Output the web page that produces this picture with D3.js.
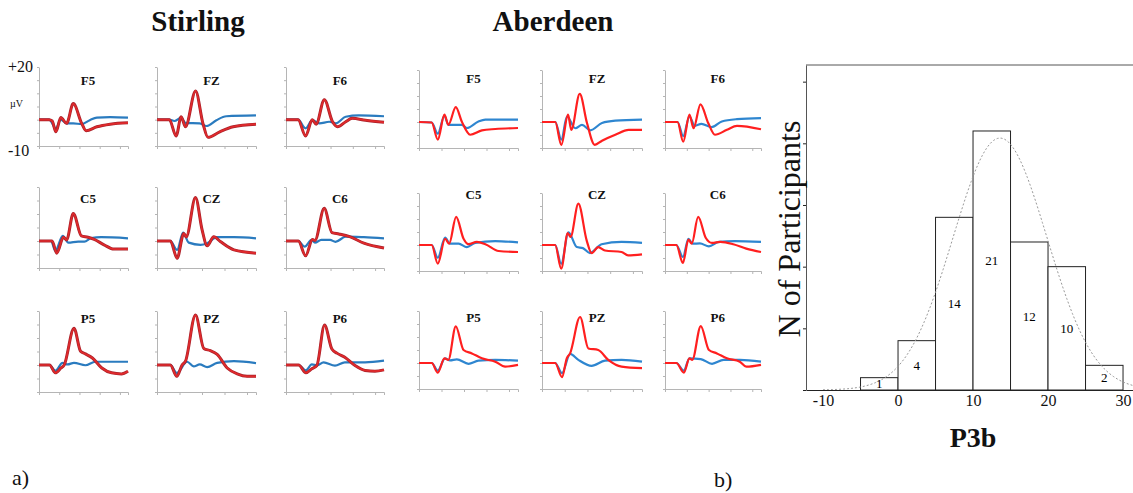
<!DOCTYPE html>
<html lang="en">
<head>
<meta charset="UTF-8">
<title>ERP waveforms and P3b histogram</title>
<script src="https://d3js.org/d3.v7.min.js"></script>
<style>
  body { margin: 0; background: #fff; }
  text { font-family: "Liberation Serif", "Times New Roman", serif; fill: #111; }
</style>
</head>
<body>
<div id="chart"></div>
<script>
// ERP panels: time in ms, amplitude in µV
const timeTicks = [-100, 100, 300, 500, 700];
const uvTicks = [-10, -5, 0, 5, 10, 15, 20];
const sites = ["F5", "FZ", "F6", "C5", "CZ", "C6", "P5", "PZ", "P6"];

// Stirling  [ms, µV]
const stF5_red  = [[-100,0],[0,0],[30,-0.5],[67,-4.6],[116,0.8],[173,-1.4],[239,6.1],[322,-1.4],[366,-4.2],[472,-2.7],[604,-1.7],[780,-1.2]];
const stF5_blue = [[-100,0],[0,0],[67,-3.3],[116,0],[173,-1.4],[239,-1.4],[322,-1.7],[402,-0.2],[472,0.8],[604,1.0],[780,0.8]];
const stFZ_red  = [[-100,0],[10,0],[70,-6.2],[115,1.1],[153,-2.7],[243,10.9],[308,-1.4],[353,-6.7],[458,-4.6],[577,-2.7],[780,-1.7]];
const stFZ_blue = [[-100,0],[10,0],[55,-0.5],[115,0.8],[153,-1.2],[279,-1.4],[340,-2.4],[428,-0.2],[516,1.3],[780,1.6]];
const stF6_red  = [[-100,0],[9,0],[76,-6.2],[136,0],[171,-1.7],[244,7.6],[318,-0.8],[362,-2.7],[436,-0.8],[494,0.5],[613,-0.2],[780,-1.0]];
const stF6_blue = [[-100,0],[9,0],[76,-3.3],[136,-0.2],[200,-1.4],[288,-0.8],[348,-1.4],[436,1.1],[553,1.6],[780,1.3]];
const stC5_red  = [[-100,0],[29,0],[76,-4.5],[142,1.4],[173,0.4],[239,10.2],[319,1.9],[384,1.4],[446,0.6],[543,-1.4],[641,-3.0],[780,-3.0]];
const stC5_blue = [[-100,0],[20,0],[61,-3.6],[135,1.9],[190,-0.6],[287,-0.2],[349,-0.2],[416,1.1],[515,1.4],[780,1.0]];
const stCZ_red  = [[-100,0],[19,0],[79,-6.4],[138,2.8],[160,1.5],[242,16.1],[301,4.1],[346,-1.8],[405,1.6],[463,-0.2],[584,-3.3],[780,-4.5]];
const stCZ_blue = [[-100,0],[19,0],[79,-3.3],[132,3.1],[182,-0.6],[287,-1.4],[346,-0.8],[434,1.4],[584,1.4],[780,1.0]];
const stC6_red  = [[-100,0],[11,0],[76,-5.5],[138,0.6],[160,0.2],[243,12.1],[313,3.1],[375,2.6],[472,1.6],[599,-0.8],[780,-2.6]];
const stC6_blue = [[-100,0],[11,0],[67,-2.1],[129,0.4],[160,-0.6],[217,0.4],[296,0.4],[344,-0.3],[437,1.6],[599,1.4],[780,1.0]];
const stP5_red  = [[-100,0],[4,0],[62,-2.9],[117,-1.1],[149,0],[246,13.6],[311,5.1],[359,4.1],[428,2.6],[521,-1.1],[618,-2.9],[715,-3.3],[780,-2.3]];
const stP5_blue = [[-100,0],[4,0],[62,-2.1],[133,0.8],[182,0.2],[246,0.8],[359,-0.1],[457,1.2],[780,1.2]];
const stPZ_red  = [[-100,0],[19,0],[76,-4.2],[123,0],[153,1.4],[242,18.5],[316,6.1],[375,5.3],[435,3.9],[524,-1.1],[613,-3.3],[701,-4.2],[780,-4.2]];
const stPZ_blue = [[-100,0],[19,0],[76,-2.9],[168,1.2],[226,-0.5],[280,0.2],[346,-0.8],[435,0.8],[584,1.4],[780,0.7]];
const stP6_red  = [[-100,0],[13,0],[79,-2.9],[132,-1.4],[177,-0.2],[246,14.8],[312,5.9],[357,4.4],[428,2.9],[520,-0.2],[610,-2.0],[699,-2.3],[780,-1.8]];
const stP6_blue = [[-100,0],[13,0],[79,-2.0],[132,0.2],[180,-0.1],[237,1.0],[340,-0.2],[428,1.0],[610,1.0],[780,1.6]];

// Aberdeen  [ms, µV]
const abF5_red  = [[-100,0],[13,-0.2],[67,-6.8],[126,2.8],[161,-1.1],[227,5.7],[280,0.2],[355,-4.9],[459,-3.2],[578,-2.7],[780,-2.3]];
const abF5_blue = [[-100,0],[13,-0.2],[67,-4.5],[126,2.4],[161,-1.1],[221,-1.1],[280,-1.1],[325,-2.3],[428,0.2],[490,0.9],[780,0.9]];
const abFZ_red  = [[-100,0],[17,0],[70,-8.8],[129,2.8],[158,-3.0],[232,10.8],[296,-0.4],[364,-8.8],[428,-7.2],[545,-4.9],[663,-3.0],[780,-3.0]];
const abFZ_blue = [[-100,0],[17,0],[70,-6.8],[120,2.1],[193,-2.4],[252,-1.1],[325,-3.2],[428,-0.4],[545,0.5],[780,0.9]];
const abF6_red  = [[-100,0],[15,0],[67,-7.6],[124,2.8],[162,-2.4],[225,6.8],[296,-0.4],[358,-4.9],[468,-3.0],[560,-1.5],[780,-2.8]];
const abF6_blue = [[-100,0],[15,0],[67,-5.4],[124,2.1],[173,-1.5],[234,-0.7],[328,-2.0],[421,0.2],[560,1.1],[780,1.5]];
const abC5_red  = [[-100,0],[13,0],[67,-7.2],[132,2.4],[168,0.5],[230,10.8],[296,2.4],[340,0.3],[414,1.2],[490,0.3],[608,-2.3],[780,-2.7]];
const abC5_blue = [[-100,0],[13,0],[67,-4.9],[132,2.8],[176,0.5],[252,0.5],[325,-0.8],[400,0.8],[578,1.5],[780,1.0]];
const abCZ_red  = [[-100,0],[16,0],[69,-9.1],[127,4.6],[151,3.1],[220,15.9],[293,1.8],[337,-3.1],[395,-0.8],[454,-2.1],[600,-2.7],[657,-4.0],[780,-3.6]];
const abCZ_blue = [[-100,0],[16,0],[69,-7.2],[133,4.9],[206,-0.8],[260,-1.2],[322,-3.1],[424,0.3],[600,1.2],[780,0.8]];
const abC6_red  = [[-100,0],[4,0],[64,-6.9],[115,2.1],[145,0.5],[204,10.8],[273,2.8],[331,0.8],[407,1.2],[526,0.3],[645,-1.4],[780,-2.7]];
const abC6_blue = [[-100,0],[4,0],[64,-4.6],[115,2.4],[153,0.5],[220,0.6],[303,-0.5],[393,1.2],[540,1.5],[780,1.2]];
const abP5_red  = [[-100,0],[13,0],[67,-3.7],[126,1.8],[161,1.2],[227,14.1],[296,5.0],[370,3.7],[459,1.8],[578,0.5],[666,-1.4],[780,-0.7]];
const abP5_blue = [[-100,0],[13,0],[67,-2.9],[132,1.8],[176,1.0],[236,1.4],[340,-0.3],[428,0.9],[578,1.2],[780,0.9]];
const abPZ_red  = [[-100,0],[16,0],[76,-5.4],[118,1.8],[147,3.7],[235,17.7],[308,5.6],[395,5.0],[483,1.2],[600,-1.4],[780,-2.0]];
const abPZ_blue = [[-100,0],[16,0],[76,-3.9],[147,3.5],[220,1.2],[337,-1.1],[454,0.9],[600,1.2],[780,0.5]];
const abP6_red  = [[-100,0],[4,0],[73,-3.7],[124,1.8],[150,1.2],[228,14.2],[303,5.0],[376,3.7],[467,1.8],[586,0.5],[645,-1.4],[780,-0.7]];
const abP6_blue = [[-100,0],[4,0],[73,-2.9],[124,1.8],[228,1.5],[331,-0.3],[437,1.2],[586,1.2],[780,0.5]];

// Histogram of P3b amplitude
const binStarts = [-5, 0, 5, 10, 15, 20, 25];
const binCounts = [1, 4, 14, 21, 12, 10, 2];
const binWidth = 5;
const histXTicks = [-10, 0, 10, 20, 30];
const histYTicks = [0, 5, 10, 15, 20, 25];
const fitMean = 13.6, fitSd = 6.25;   // fitted normal curve

// ---- layout -----------------------------------------------------------
const W = 1133, H = 493;
const svg = d3.select("#chart").append("svg")
  .attr("width", W).attr("height", H);

const groups = [
  { name: "Stirling", titleX: 198,
    colX0: [39, 157, 286], colX1: [128, 256, 384],
    rowY0: [67, 187, 311], rowY1: [146, 268, 392],
    labelY: [80, 198, 318],
    red: "#e02a2c", redEdge: "#a8222b", blue: "#2a7bbf",
    waves: {
      F5: [stF5_red, stF5_blue], FZ: [stFZ_red, stFZ_blue], F6: [stF6_red, stF6_blue],
      C5: [stC5_red, stC5_blue], CZ: [stCZ_red, stCZ_blue], C6: [stC6_red, stC6_blue],
      P5: [stP5_red, stP5_blue], PZ: [stPZ_red, stPZ_blue], P6: [stP6_red, stP6_blue] } },
  { name: "Aberdeen", titleX: 553,
    colX0: [419, 542, 665], colX1: [518, 642, 761],
    rowY0: [70, 193, 311], rowY1: [148, 271, 389],
    labelY: [78, 194, 317],
    red: "#ff1f1f", redEdge: null, blue: "#2e86d0",
    waves: {
      F5: [abF5_red, abF5_blue], FZ: [abFZ_red, abFZ_blue], F6: [abF6_red, abF6_blue],
      C5: [abC5_red, abC5_blue], CZ: [abCZ_red, abCZ_blue], C6: [abC6_red, abC6_blue],
      P5: [abP5_red, abP5_blue], PZ: [abPZ_red, abPZ_blue], P6: [abP6_red, abP6_blue] } }
];

function styleAxis(sel) {
  sel.select(".domain").attr("stroke", "#b5b5b5").attr("stroke-width", 1);
  sel.selectAll(".tick line").attr("stroke", "#b5b5b5");
}

groups.forEach(grp => {
  svg.append("text")
    .attr("x", grp.titleX).attr("y", 31)
    .attr("text-anchor", "middle")
    .style("font-size", "29px").style("font-weight", "bold")
    .text(grp.name);

  sites.forEach((site, i) => {
    const c = i % 3, r = Math.floor(i / 3);
    const x = d3.scaleLinear().domain([-100, 780]).range([grp.colX0[c], grp.colX1[c]]);
    const y = d3.scaleLinear().domain([-10, 20]).range([grp.rowY1[r], grp.rowY0[r]]);
    const g = svg.append("g");

    g.append("g")
      .attr("transform", `translate(0,${grp.rowY1[r]})`)
      .call(d3.axisBottom(x).tickValues(timeTicks).tickSize(3).tickSizeOuter(3).tickFormat(""))
      .call(styleAxis);
    g.append("g")
      .attr("transform", `translate(${grp.colX0[c]},0)`)
      .call(d3.axisLeft(y).tickValues(uvTicks).tickSize(2).tickSizeOuter(0).tickFormat(""))
      .call(styleAxis);

    const line = d3.line()
      .x(d => x(d[0])).y(d => y(d[1]))
      .curve(d3.curveMonotoneX);
    const [red, blue] = grp.waves[site];

    g.append("path").datum(blue)
      .attr("d", line).attr("fill", "none")
      .attr("stroke", grp.blue).attr("stroke-width", 2.2);
    if (grp.redEdge) {
      g.append("path").datum(red)
        .attr("d", line).attr("fill", "none")
        .attr("stroke", grp.redEdge).attr("stroke-width", 3);
    }
    g.append("path").datum(red)
      .attr("d", line).attr("fill", "none")
      .attr("stroke", grp.red).attr("stroke-width", grp.redEdge ? 1.7 : 2.2);

    g.append("text")
      .attr("x", grp.colX0[c] + 0.55 * (grp.colX1[c] - grp.colX0[c]))
      .attr("y", grp.labelY[r])
      .attr("dy", "0.35em")
      .attr("text-anchor", "middle")
      .style("font-size", "13px").style("font-weight", "bold")
      .text(site);
  });
});

// amplitude scale annotation on first panel
svg.append("text").attr("x", 8).attr("y", 72).style("font-size", "16px").text("+20");
svg.append("text").attr("x", 10).attr("y", 107).style("font-size", "10px").text("µV");
svg.append("text").attr("x", 8).attr("y", 156).style("font-size", "16px").text("-10");

svg.append("text").attr("x", 12).attr("y", 485).style("font-size", "22px").text("a)");
svg.append("text").attr("x", 714).attr("y", 487).style("font-size", "22px").text("b)");

// ---- histogram ----------------------------------------------------------
const hx = d3.scaleLinear().domain([-12.27, 31.33]).range([806, 1133]);
const hy = d3.scaleLinear().domain([0, 26.35]).range([390, 65]);
const hist = svg.append("g");

hist.append("line")
  .attr("x1", hx.range()[0]).attr("x2", hx.range()[1])
  .attr("y1", hy(26.35)).attr("y2", hy(26.35))
  .attr("stroke", "#555").attr("stroke-width", 1);

hist.selectAll("rect")
  .data(binStarts)
  .join("rect")
  .attr("x", d => hx(d))
  .attr("width", d => hx(d + binWidth) - hx(d))
  .attr("y", (d, i) => hy(binCounts[i]))
  .attr("height", (d, i) => hy(0) - hy(binCounts[i]))
  .attr("fill", "#fff").attr("stroke", "#222").attr("stroke-width", 1);

// fitted normal, scaled to counts
const nTotal = d3.sum(binCounts);
const curveX = d3.range(-10, 31.34, 0.25);
const normal = v => nTotal * binWidth / (fitSd * Math.sqrt(2 * Math.PI)) *
  Math.exp(-0.5 * ((v - fitMean) / fitSd) ** 2);
hist.append("path")
  .datum(curveX)
  .attr("d", d3.line().x(d => hx(d)).y(d => hy(normal(d))))
  .attr("fill", "none").attr("stroke", "#999")
  .attr("stroke-width", 1).attr("stroke-dasharray", "2,2");

hist.selectAll(".count")
  .data(binStarts)
  .join("text")
  .attr("class", "count")
  .attr("x", d => hx(d + binWidth / 2))
  .attr("y", (d, i) => hy(binCounts[i] / 2))
  .attr("dy", "0.35em")
  .attr("text-anchor", "middle")
  .style("font-size", "13px")
  .style("fill", "#000")
  .text((d, i) => binCounts[i]);

hist.append("g")
  .attr("transform", `translate(0,${hy(0)})`)
  .call(d3.axisBottom(hx).tickValues(histXTicks).tickSize(0).tickSizeOuter(0).tickPadding(5)
    .tickFormat(d => String(d)))
  .call(sel => {
    sel.attr("font-family", null);
    sel.select(".domain").attr("stroke", "#222");
    sel.selectAll("text").style("font-size", "16px")
      .style("font-family", "'Liberation Serif', serif").style("fill", "#111");
  });
hist.append("g")
  .attr("transform", `translate(${hx.range()[0]},0)`)
  .call(d3.axisLeft(hy).tickValues(histYTicks).tickSize(3).tickSizeOuter(0).tickFormat(""))
  .call(sel => {
    sel.select(".domain").attr("stroke", "#555");
    sel.selectAll(".tick line").attr("stroke", "#222");
  });

hist.append("text")
  .attr("x", 973).attr("y", 447)
  .attr("text-anchor", "middle")
  .style("font-size", "28px").style("font-weight", "bold")
  .text("P3b");
hist.append("text")
  .attr("transform", "translate(800,229) rotate(-90)")
  .attr("text-anchor", "middle")
  .style("font-size", "32px")
  .text("N of Participants");
</script>
</body>
</html>
